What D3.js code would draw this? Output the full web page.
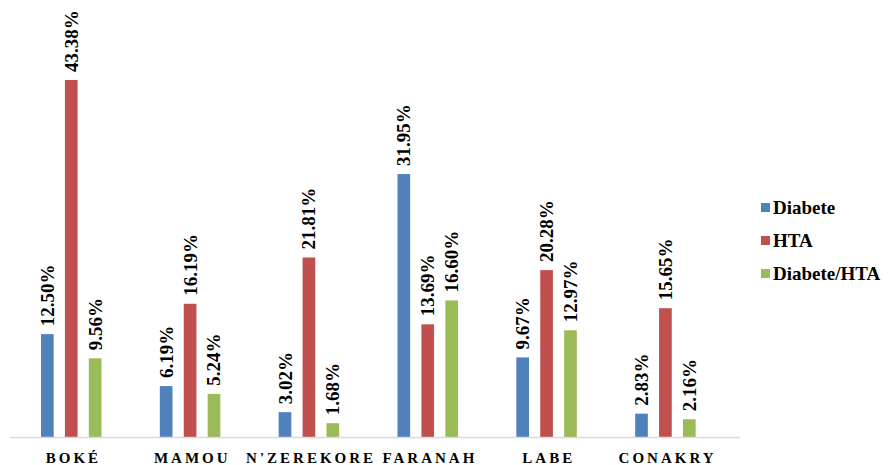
<!DOCTYPE html>
<html>
<head>
<meta charset="utf-8">
<script src="https://cdn.jsdelivr.net/npm/d3@7"></script>
<style>
  body { margin: 0; background: #fff; }
</style>
</head>
<body>
<script>
// data
const regions = ["BOKÉ", "MAMOU", "N'ZEREKORE", "FARANAH", "LABE", "CONAKRY"];
const seriesNames = ["Diabete", "HTA", "Diabete/HTA"];
const diabete = [12.50, 6.19, 3.02, 31.95, 9.67, 2.83];
const hta = [43.38, 16.19, 21.81, 13.69, 20.28, 15.65];
const diabeteHta = [9.56, 5.24, 1.68, 16.60, 12.97, 2.16];
const colors = ["#4F81BD", "#C0504D", "#9BBB59"];
const serif = "'Liberation Serif', 'Times New Roman', serif";

function draw() {
  const svg = d3.select("body").append("svg")
    .attr("width", 891)
    .attr("height", 465)
    .attr("font-family", serif)
    .attr("font-weight", "bold");

  const allSeries = [diabete, hta, diabeteHta];

  let x = d3.scaleBand().domain(regions).range([14, 727]);
  let inner = d3.scaleBand().domain(seriesNames).range([27, 87.5]).paddingInner(0.47);
  let y = d3.scaleLinear().domain([0, 50]).range([437, 25.5]);

  // bars + labels
  allSeries.forEach((vals, si) => {
    let g = svg.append("g");
    g.selectAll("rect")
      .data(vals)
      .enter()
      .append("rect")
      .attr("x", (d, i) => x(regions[i]) + inner(seriesNames[si]))
      .attr("y", d => y(d))
      .attr("width", inner.bandwidth())
      .attr("height", d => y(0) - y(d))
      .attr("fill", colors[si]);

    g.selectAll("text")
      .data(vals)
      .enter()
      .append("text")
      .attr("transform", (d, i) => {
        let cx = x(regions[i]) + inner(seriesNames[si]) + inner.bandwidth() / 2;
        return "translate(" + (cx + 6.5) + "," + (y(d) - 8) + ") rotate(-90)";
      })
      .attr("font-family", serif)
      .attr("font-size", 19)
      .attr("fill", "#000")
      .text(d => d.toFixed(2) + "%");
  });

  // baseline
  svg.append("line")
    .attr("x1", 10).attr("x2", 740)
    .attr("y1", 437.5).attr("y2", 437.5)
    .attr("stroke", "#D9D9D9")
    .attr("stroke-width", 1.5);

  // category labels
  svg.selectAll(".cat")
    .data(regions)
    .enter()
    .append("text")
    .attr("class", "cat")
    .attr("x", d => x(d) + x.bandwidth() / 2)
    .attr("y", 463)
    .attr("text-anchor", "middle")
    .attr("font-family", serif)
    .attr("font-size", 15)
    .attr("letter-spacing", 3)
    .text(d => d);

  // legend
  let legend = svg.selectAll(".leg")
    .data(seriesNames)
    .enter()
    .append("g")
    .attr("transform", (d, i) => "translate(761," + (203 + i * 33) + ")");
  legend.append("rect")
    .attr("width", 9).attr("height", 9)
    .attr("fill", (d, i) => colors[i]);
  legend.append("text")
    .attr("x", 12).attr("y", 10.5)
    .attr("font-family", serif)
    .attr("font-size", 19)
    .text(d => d);
}

document.addEventListener("DOMContentLoaded", draw);
</script>
</body>
</html>
